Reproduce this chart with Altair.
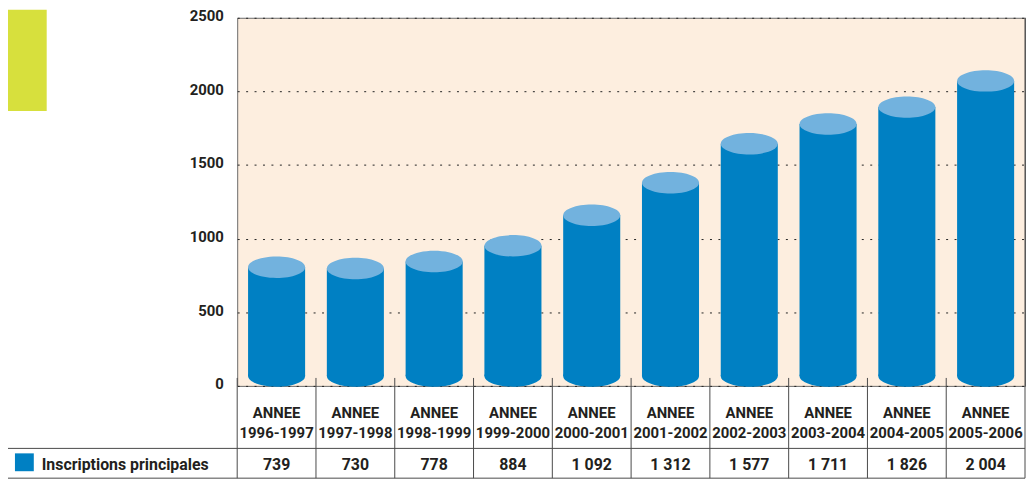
import altair as alt
import pandas as pd

# ---- data ----
years = ["1996-1997", "1997-1998", "1998-1999", "1999-2000", "2000-2001",
         "2001-2002", "2002-2003", "2003-2004", "2004-2005", "2005-2006"]
values = [739, 730, 778, 884, 1092, 1312, 1577, 1711, 1826, 2004]
y_ticks = [0, 500, 1000, 1500, 2000, 2500]
series_name = "Inscriptions principales"
header_word = "ANNEE"

labels = [f"{v:,}".replace(",", " ") for v in values]
df = pd.DataFrame({"annee": years, "inscriptions": values, "label": labels})
one = pd.DataFrame({"k": [0]})

W, H = 794, 371
BODY = "#0080C3"
TOP = "#72B2DE"
BG = "#FDEEDF"
INK = "#231F20"
LINE = "#4a4a4a"
FONT = "Roboto"

xs = alt.Scale(type="band", domain=years, paddingInner=0, paddingOuter=0)
ys = alt.Scale(domain=[0, 2500], nice=False, zero=True)
x_enc = alt.X("annee:N", scale=xs, axis=None, sort=years)

ELLIPSE = "M-1,0A1,0.376,0,1,1,1,0A1,0.376,0,1,1,-1,0Z"
BW = 57.5
SIZE = BW * BW
LIFT = -10

base = alt.Chart(df)

bottom = base.mark_point(shape=ELLIPSE, size=SIZE, filled=True, opacity=1,
                         color=BODY, strokeWidth=0, yOffset=LIFT).encode(
    x=x_enc, y=alt.Y(datum=0, type="quantitative", scale=ys))

bars = base.mark_bar(size=BW, color=BODY, yOffset=LIFT, y2Offset=LIFT).encode(
    x=x_enc,
    y=alt.Y("inscriptions:Q", scale=ys, title=None,
            axis=alt.Axis(values=y_ticks, format="d", grid=True, gridDash=[2, 6.5],
                          gridColor="#222", gridWidth=1, domain=False, ticks=False,
                          labelFont=FONT, labelFontWeight="bold", labelFontSize=15,
                          labelColor=INK, labelPadding=14, labelOffset=-2)),
    y2=alt.datum(0))

top = base.mark_point(shape=ELLIPSE, size=SIZE, filled=True, opacity=1,
                      color=TOP, strokeWidth=0, yOffset=LIFT).encode(
    x=x_enc, y=alt.Y("inscriptions:Q", scale=ys))

txt = dict(font=FONT, fontWeight="bold", fontSize=15, baseline="alphabetic", color=INK)
txt16 = dict(txt, fontSize=16)
head1 = base.mark_text(text=header_word, **txt).encode(x=x_enc, y=alt.value(403.3))
head2 = base.mark_text(**txt).encode(x=x_enc, y=alt.value(423.3), text="annee:N")
vals = base.mark_text(**txt16).encode(x=x_enc, y=alt.value(455.7), text="label:N")

leg_txt = alt.Chart(one).mark_text(text=series_name, align="left", **txt16).encode(
    x=alt.value(-197), y=alt.value(455.7))
leg_sq = alt.Chart(one).mark_rect(color=BODY).encode(
    x=alt.value(-224), x2=alt.value(-205), y=alt.value(439), y2=alt.value(457))

green = alt.Chart(one).mark_rect(color="#D7E03D").encode(
    x=alt.value(-231), x2=alt.value(-192), y=alt.value(-8), y2=alt.value(94))

vsep = base.mark_rule(color=LINE, strokeWidth=1).encode(
    x=alt.X("annee:N", scale=xs, axis=None, sort=years, bandPosition=0),
    y=alt.value(363), y2=alt.value(464))
right_edge = alt.Chart(one).mark_rule(color=LINE).encode(
    x=alt.value(W), y=alt.value(0), y2=alt.value(464))
left_edge = alt.Chart(one).mark_rule(color=LINE).encode(
    x=alt.value(-232), y=alt.value(434), y2=alt.value(464))
h1 = alt.Chart(one).mark_rule(color=LINE).encode(
    x=alt.value(-232), x2=alt.value(W), y=alt.value(434))
h2 = alt.Chart(one).mark_rule(color=LINE).encode(
    x=alt.value(-232), x2=alt.value(W), y=alt.value(464))

chart = alt.layer(
    green, bottom, bars, top, vsep, right_edge, left_edge, h1, h2,
    head1, head2, vals, leg_sq, leg_txt
).properties(
    width=W, height=H, autosize="none",
    padding={"left": 231, "top": 8, "right": 1, "bottom": 94}
).configure_view(fill=BG, stroke="#6a6a6a", strokeWidth=1)

chart.save("out.html", embed_options={"renderer": "svg", "actions": False})
